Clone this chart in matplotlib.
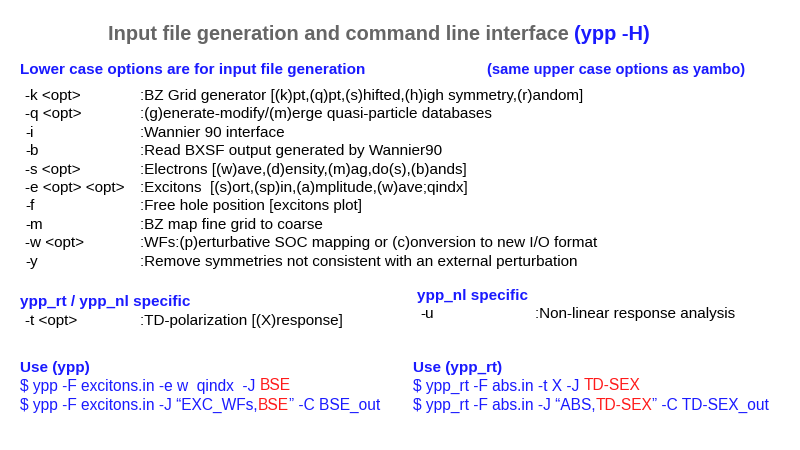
import matplotlib
matplotlib.use("Agg")
import matplotlib.pyplot as plt

W, H = 800, 450
BLUE = "#1a1aff"
RED = "#ff1a1a"
GRAY = "#666666"

options = ["-k <opt>", "-q <opt>", "-i", "-b", "-s <opt>", "-e <opt> <opt>",
           "-f", "-m", "-w <opt>", "-y"]
descriptions = [
    ":BZ Grid generator [(k)pt,(q)pt,(s)hifted,(h)igh symmetry,(r)andom]",
    ":(g)enerate-modify/(m)erge quasi-particle databases",
    ":Wannier 90 interface",
    ":Read BXSF output generated by Wannier90",
    ":Electrons [(w)ave,(d)ensity,(m)ag,do(s),(b)ands]",
    ":Excitons  [(s)ort,(sp)in,(a)mplitude,(w)ave;qindx]",
    ":Free hole position [excitons plot]",
    ":BZ map fine grid to coarse",
    ":WFs:(p)erturbative SOC mapping or (c)onversion to new I/O format",
    ":Remove symmetries not consistent with an external perturbation",
]
ypp_cmds = [[("$ ypp -F excitons.in -e w  qindx  -J ", "b"), ("BSE", "r")],
            [("$ ypp -F excitons.in -J \u201cEXC_WFs,", "b"), ("BSE", "r"), ("\u201d -C BSE_out", "b")]]
rt_cmds = [[("$ ypp_rt -F abs.in -t X -J ", "b"), ("TD-SEX", "r")],
           [("$ ypp_rt -F abs.in -J \u201cABS,", "b"), ("TD-SEX", "r"), ("\u201d -C TD-SEX_out", "b")]]

plt.rcParams["font.family"] = ["Liberation Sans", "DejaVu Sans"]
fig = plt.figure(figsize=(8, 4.5), dpi=100)
fig.patch.set_facecolor("white")
renderer = fig.canvas.get_renderer()


def put(x, y, s, **kw):
    kw.setdefault("fontsize", 11)
    kw.setdefault("va", "center")
    return fig.text(x / W, 1 - y / H, s, **kw)


def put_pieces(x, y, pieces, **kw):
    colors = {"k": "black", "r": RED, "b": BLUE, "g": GRAY}
    for s, c in pieces:
        t = put(x, y, s, color=colors[c], **kw)
        x += t.get_window_extent(renderer).width


# title
put_pieces(108, 35, [("Input file generation and command line interface ", "g"), ("(ypp -H)", "b")],
           fontsize=14.4, fontweight="bold")

put(20, 70, "Lower case options are for input file generation", color=BLUE, fontweight="bold", fontsize=11)
put(487, 70, "(same upper case options as yambo)", color=BLUE, fontweight="bold", fontsize=10.5)

for i, (o, d) in enumerate(zip(options, descriptions)):
    y = 96 + i * 18.4
    put(25, y, o)
    put(140, y, d)

put(20, 302, "ypp_rt / ypp_nl specific", color=BLUE, fontweight="bold", fontsize=11)
put(25, 321, "-t <opt>")
put(140, 321, ":TD-polarization [(X)response]")

put(417, 296, "ypp_nl specific", color=BLUE, fontweight="bold", fontsize=11)
put(420, 314, "-u")
put(535, 314, ":Non-linear response analysis")

put(20, 368, "Use (ypp)", color=BLUE, fontweight="bold", fontsize=11)
put(413, 368, "Use (ypp_rt)", color=BLUE, fontweight="bold", fontsize=11)
for i, p in enumerate(ypp_cmds):
    put_pieces(20, 386 + i * 19, p, fontsize=11.2)
for i, p in enumerate(rt_cmds):
    put_pieces(413, 386 + i * 19, p, fontsize=11.2)

fig.savefig("out.png", dpi=100)
